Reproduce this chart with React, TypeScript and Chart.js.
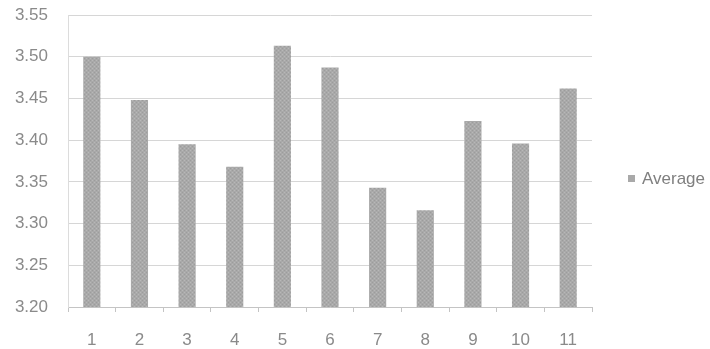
import React, { useEffect, useRef } from "react";
import { Chart, registerables } from "chart.js";

Chart.register(...registerables);

const categories = ["1", "2", "3", "4", "5", "6", "7", "8", "9", "10", "11"];
const averageValues = [3.5, 3.448, 3.395, 3.368, 3.513, 3.487, 3.343, 3.316, 3.423, 3.396, 3.462];
const seriesLabel = "Average";
const yMin = 3.2;
const yMax = 3.55;
const yStep = 0.05;

const FONT = "'Liberation Sans', Arial, sans-serif";
const TEXT_COLOR = "#8a8a8a";
const BAR_COLOR = "#a9a9a9";

function makePattern(): CanvasPattern | string {
  const c = document.createElement("canvas");
  c.width = 4;
  c.height = 4;
  const g = c.getContext("2d");
  if (!g) return BAR_COLOR;
  g.fillStyle = BAR_COLOR;
  g.fillRect(0, 0, 4, 4);
  g.fillStyle = "#b8b8b8";
  g.fillRect(0, 0, 1, 1);
  g.fillRect(2, 2, 1, 1);
  g.fillStyle = "#9c9c9c";
  g.fillRect(2, 0, 1, 1);
  g.fillRect(0, 2, 1, 1);
  const p = g.createPattern(c, "repeat");
  return p || BAR_COLOR;
}

const legendPlugin = {
  id: "customLegend",
  afterDraw(chart: any) {
    const ctx = chart.ctx;
    const area = chart.chartArea;
    const ds = chart.data.datasets[0];
    const x = area.right + 36;
    const y = 179;
    ctx.save();
    ctx.fillStyle = BAR_COLOR;
    ctx.fillRect(x, y - 4, 7, 7);
    ctx.fillStyle = "#7f7f7f";
    ctx.font = `17px ${FONT}`;
    ctx.textBaseline = "middle";
    ctx.textAlign = "left";
    ctx.fillText(ds.label, x + 14, y);
    ctx.restore();
  },
};

export default function App() {
  const ref = useRef<HTMLCanvasElement | null>(null);

  useEffect(() => {
    if (!ref.current) return;
    const chart = new Chart(ref.current, {
      type: "bar",
      data: {
        labels: categories,
        datasets: [
          {
            label: seriesLabel,
            data: averageValues,
            backgroundColor: makePattern() as any,
            borderWidth: 0,
            categoryPercentage: 1,
            barPercentage: 0.36,
          },
        ],
      },
      options: {
        responsive: false,
        animation: false,
        devicePixelRatio: 1,
        layout: { padding: { top: 15, right: 118, left: 0, bottom: 0 } },
        plugins: {
          legend: { display: false },
          tooltip: { enabled: false },
          title: { display: false },
        },
        scales: {
          x: {
            grid: {
              offset: true,
              drawOnChartArea: false,
              drawTicks: true,
              tickLength: 5,
              color: "#c4c4c4",
            },
            border: { display: true, color: "#c4c4c4" },
            ticks: {
              color: TEXT_COLOR,
              font: { family: FONT, size: 17 },
              padding: 18,
              maxRotation: 0,
            },
            afterFit(scale: any) {
              scale.height = 42;
            },
          },
          y: {
            min: yMin,
            max: yMax,
            grid: {
              color: "#d6d6d6",
              drawTicks: true,
              tickLength: 20,
              tickColor: "rgba(0,0,0,0)",
            },
            border: { display: true, color: "#dcdcdc" },
            ticks: {
              stepSize: yStep,
              color: TEXT_COLOR,
              font: { family: FONT, size: 17 },
              padding: 0,
              callback: (v: any) => Number(v).toFixed(2),
            },
            afterFit(scale: any) {
              scale.width = 68;
            },
          },
        },
      },
      plugins: [legendPlugin],
    });
    return () => chart.destroy();
  }, []);

  return (
    <div style={{ position: "fixed", left: 0, top: 0, width: 710, height: 349, background: "#fff" }}>
      <canvas ref={ref} width={710} height={349} style={{ display: "block" }} />
    </div>
  );
}
